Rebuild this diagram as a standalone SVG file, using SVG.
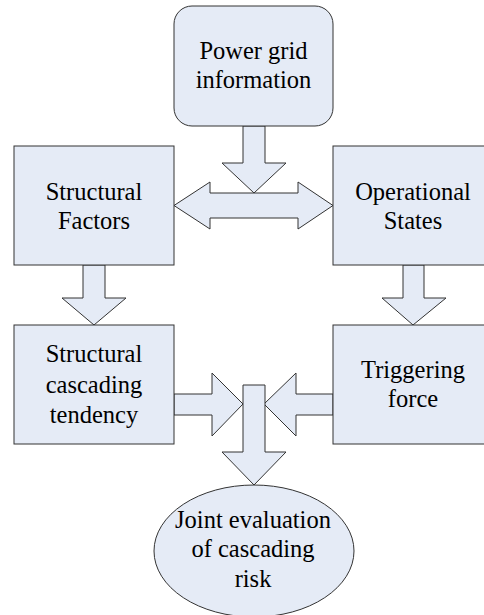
<svg xmlns="http://www.w3.org/2000/svg" width="484" height="615" viewBox="0 0 484 615">
<style>
.n{fill:#e5ebf6;stroke:#333;stroke-width:1}
.a{fill:#e5ebf6;stroke:#333;stroke-width:1;stroke-linejoin:miter}
.t{font-family:'Liberation Serif','Times New Roman',serif;font-size:24.5px;fill:#000;text-anchor:middle}
</style>
<rect width="484" height="615" fill="#fff"/>
<g id="connectors">
<polygon class="a" points="243,126 265,126 265,163 286,163 254,193 222,163 243,163"/>
<polygon class="a" points="174,205.5 210,182 210,193 298,193 298,182 333,205.5 298,229 298,218 210,218 210,229"/>
<polygon class="a" points="83,265 105,265 105,298 126,298 94,325 62,298 83,298"/>
<polygon class="a" points="403,265 424,265 424,298 446,298 413,325 382,298 403,298"/>
<polygon class="a" points="174,394 212,394 212,373 243,404 212,436 212,415 174,415"/>
<polygon class="a" points="333,394 296,394 296,373 264,404 296,436 296,415 333,415"/>
<polygon class="a" points="243,385 265,385 265,452 286,452 254,485 222,452 243,452"/>
</g>
<g id="power-grid">
<rect class="n" x="174" y="6" width="159" height="120" rx="18" ry="18"/>
<text class="t" x="253.5" y="59">Power grid</text>
<text class="t" x="253.5" y="88">information</text>
</g>
<g id="structural-factors">
<rect class="n" x="14" y="146" width="160" height="119"/>
<text class="t" x="94" y="200">Structural</text>
<text class="t" x="94" y="229">Factors</text>
</g>
<g id="operational-states">
<rect class="n" x="333" y="146" width="160" height="119"/>
<text class="t" x="413" y="200">Operational</text>
<text class="t" x="413" y="229">States</text>
</g>
<g id="structural-cascading">
<rect class="n" x="14" y="325" width="160" height="119"/>
<text class="t" x="94" y="362">Structural</text>
<text class="t" x="94" y="393">cascading</text>
<text class="t" x="94" y="423">tendency</text>
</g>
<g id="triggering-force">
<rect class="n" x="333" y="325" width="160" height="119"/>
<text class="t" x="413" y="378">Triggering</text>
<text class="t" x="413" y="407">force</text>
</g>
<g id="joint-evaluation">
<ellipse class="n" cx="254" cy="551" rx="100" ry="66"/>
<text class="t" x="253" y="528">Joint evaluation</text>
<text class="t" x="253" y="557">of cascading</text>
<text class="t" x="253" y="587">risk</text>
</g>
</svg>
